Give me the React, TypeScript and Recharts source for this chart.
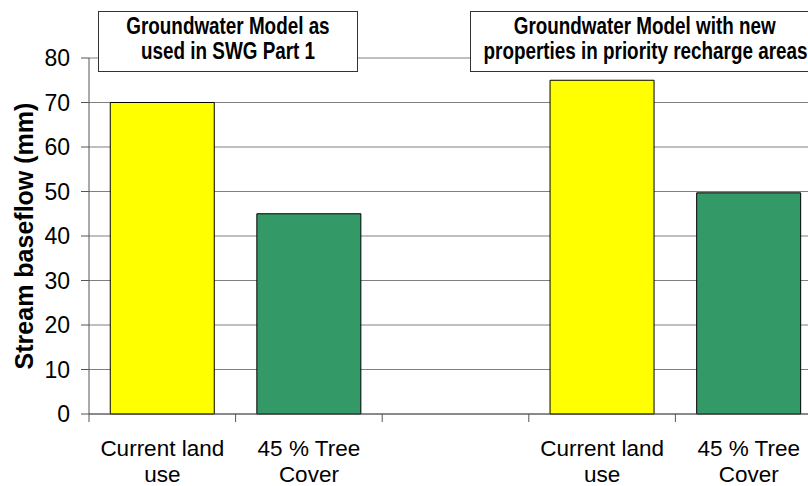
import React from "react";
import {
  BarChart,
  Bar,
  Cell,
  XAxis,
  YAxis,
  CartesianGrid,
  Label,
} from "recharts";

// data
const categories = ["Current land\nuse", "45 % Tree\nCover", "", "Current land\nuse", "45 % Tree\nCover"];
const baseflow = [70, 45, null, 75, 49.7];
const yTicks = [0, 10, 20, 30, 40, 50, 60, 70, 80];
const boxTitles = [
  ["Groundwater Model as", "used in SWG Part 1"],
  ["Groundwater Model with new", "properties in priority recharge areas"],
];

const barColors = ["#FFFF00", "#339966", "#FFFFFF", "#FFFF00", "#339966"];

const W = 830;
const H = 486;
const MARGIN = { top: 58, right: 8, bottom: 0, left: 0 };
const Y_AXIS_W = 89;
const X_AXIS_H = 72;
const PLOT_BOTTOM = H - MARGIN.bottom - X_AXIS_H;
const FONT = "'Liberation Sans', Arial, sans-serif";

const data = categories.map((c, i) => ({ name: c, value: baseflow[i] }));

function CategoryTick(props: any) {
  const { x, payload, index } = props;
  const half = payload?.offset ?? (W - MARGIN.right - Y_AXIS_W) / categories.length / 2;
  const lines = String(categories[index] ?? "").split("\n");
  return (
    <g>
      <line x1={x - half} x2={x - half} y1={PLOT_BOTTOM} y2={PLOT_BOTTOM + 8} stroke="#555" />
      {index === categories.length - 1 && (
        <line x1={x + half} x2={x + half} y1={PLOT_BOTTOM} y2={PLOT_BOTTOM + 8} stroke="#555" />
      )}
      <text x={x} y={PLOT_BOTTOM + 42} textAnchor="middle" fontSize={22.5} fill="#000" fontFamily={FONT}>
        {lines.map((l, i) => (
          <tspan key={i} x={x} dy={i === 0 ? 0 : 25.5}>
            {l}
          </tspan>
        ))}
      </text>
    </g>
  );
}

function YTitle(props: any) {
  const vb = props.viewBox || {};
  const cy = (vb.y ?? 58) + (vb.height ?? 356) / 2;
  return (
    <text
      x={33}
      y={cy}
      transform={`rotate(-90 33 ${cy})`}
      textAnchor="middle"
      fontSize={25}
      fontWeight="bold"
      fill="#000"
      fontFamily={FONT}
    >
      Stream baseflow (mm)
    </text>
  );
}

const boxStyle: React.CSSProperties = {
  position: "absolute",
  top: 11,
  height: 61,
  background: "#fff",
  border: "1px solid #333",
  fontFamily: FONT,
  fontWeight: "bold",
  fontSize: 23,
  lineHeight: "25px",
  paddingTop: 2,
  boxSizing: "border-box",
  whiteSpace: "nowrap",
  color: "#000",
};

const lineStyle: React.CSSProperties = {
  display: "flex",
  justifyContent: "center",
};

// the reference uses a narrow bold face; squeeze the regular one to match
const narrow: React.CSSProperties = {
  display: "inline-block",
  flexShrink: 0,
  transform: "scaleX(0.82)",
  transformOrigin: "center",
};

function TitleBox({ lines, left, width }: { lines: string[]; left: number; width: number }) {
  return (
    <div style={{ ...boxStyle, left, width }}>
      {lines.map((t, i) => (
        <div key={i} style={lineStyle}>
          <span style={narrow}>{t}</span>
        </div>
      ))}
    </div>
  );
}

export default function App() {
  return (
    <div
      style={{
        position: "absolute",
        left: 0,
        top: 0,
        width: 808,
        height: 486,
        overflow: "hidden",
        background: "#fff",
      }}
    >
      <BarChart width={W} height={H} data={data} margin={MARGIN} barCategoryGap="14.5%">
        <CartesianGrid horizontal vertical={false} stroke="#808080" />
        <XAxis
          dataKey="name"
          height={X_AXIS_H}
          stroke="#555"
          tickLine={false}
          interval={0}
          tick={<CategoryTick />}
        />
        <YAxis
          width={Y_AXIS_W}
          domain={[0, 80]}
          ticks={yTicks}
          interval={0}
          stroke="#555"
          tickSize={8}
          tickMargin={11}
          tick={{ fontSize: 23, fill: "#000", fontFamily: FONT }}
        >
          <Label content={<YTitle />} />
        </YAxis>
        <Bar dataKey="value" stroke="#000" strokeWidth={1} isAnimationActive={false}>
          {data.map((d, i) => (
            <Cell key={i} fill={barColors[i]} />
          ))}
        </Bar>
      </BarChart>
      <TitleBox lines={boxTitles[0]} left={98} width={260} />
      <TitleBox lines={boxTitles[1]} left={470} width={350} />
    </div>
  );
}
